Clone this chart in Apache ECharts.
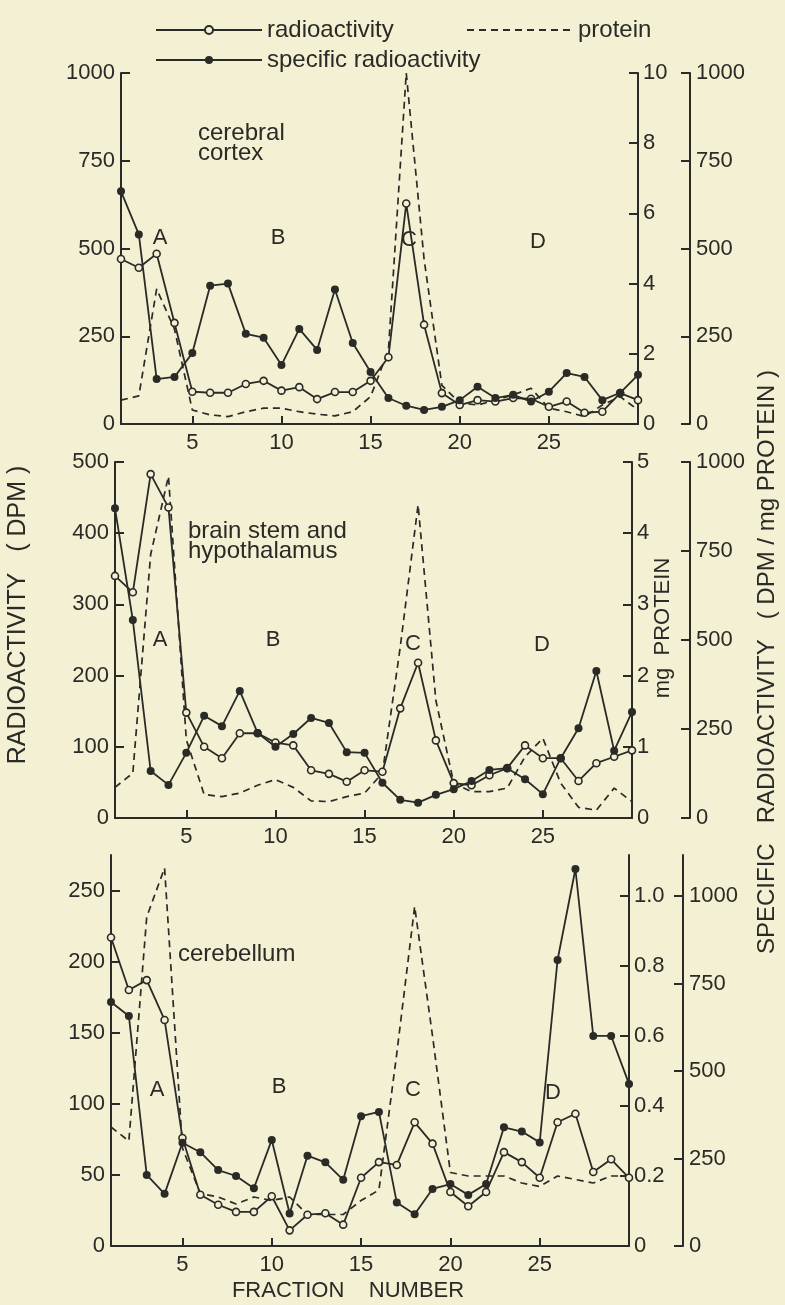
<!DOCTYPE html>
<html>
<head>
<meta charset="utf-8">
<script src="https://cdn.jsdelivr.net/npm/echarts@6/dist/echarts.min.js"></script>
<style>
html,body{margin:0;padding:0;background:#f3f0d3;}
#chart{width:785px;height:1305px;}
</style>
</head>
<body>
<div id="chart"></div>
<script>
// ---------- data ----------
const fractions = ['1','2','3','4','5','6','7','8','9','10','11','12','13','14','15','16','17','18','19','20','21','22','23','24','25','26','27','28','29','30'];

// cerebral cortex
const cortexRadio    = [470,445,485,288,92,89,89,114,123,95,105,71,91,91,123,190,628,283,88,54,68,64,74,72,49,64,32,35,88,68];
const cortexSpecific = [663,540,128,134,202,394,400,257,246,168,271,211,383,231,148,74,52,40,49,68,106,74,83,64,92,145,134,68,89,140];
const cortexProtein  = [0.68,0.8,3.85,2.7,0.4,0.26,0.21,0.35,0.45,0.45,0.35,0.28,0.23,0.35,0.78,2.1,10,4.7,1.1,0.6,0.54,0.68,0.83,1.02,0.45,0.35,0.21,0.54,0.78,0.4];

// brain stem and hypothalamus
const stemRadio    = [340,317,483,436,148,100,84,119,119,106,102,67,62,51,67,65,154,218,109,49,46,60,70,102,84,84,52,77,86,95];
const stemSpecific = [870,556,132,93,183,287,258,357,239,200,236,281,267,185,183,99,51,43,65,81,104,135,140,109,67,168,252,413,189,298];
const stemProtein  = [0.43,0.63,3.7,4.8,1.1,0.33,0.3,0.35,0.46,0.54,0.43,0.24,0.23,0.3,0.35,0.63,2.4,4.4,1.65,0.49,0.37,0.37,0.42,0.86,1.12,0.49,0.15,0.11,0.42,0.23];

// cerebellum
const cerebRadio    = [217,180,187,159,76,36,29,24,24,35,11,22,23,15,48,59,57,87,72,38,28,38,66,59,48,87,93,52,61,48];
const cerebSpecific = [697,657,203,149,295,268,217,200,165,303,93,258,239,189,371,383,124,91,163,177,146,177,339,327,296,817,1077,600,600,463];
const cerebProtein  = [0.34,0.30,0.94,1.08,0.28,0.15,0.14,0.12,0.14,0.13,0.14,0.09,0.09,0.09,0.13,0.16,0.55,0.97,0.6,0.21,0.2,0.2,0.2,0.18,0.17,0.2,0.19,0.18,0.2,0.2];

// tick labels
const fractionTicks    = ['5','10','15','20','25'];
const cortexRadioTicks = [0,250,500,750,1000];
const cortexProtTicks  = [0,2,4,6,8,10];
const cortexSpecTicks  = [0,250,500,750,1000];
const stemRadioTicks   = [0,100,200,300,400,500];
const stemProtTicks    = [0,1,2,3,4,5];
const stemSpecTicks    = [0,250,500,750,1000];
const cerebRadioTicks  = [0,50,100,150,200,250];
const cerebProtTicks   = [0,0.2,0.4,0.6,0.8,1.0];
const cerebSpecTicks   = [0,250,500,750,1000];

// ---------- style ----------
const INK = '#2a2a26';
const BG = '#f3f0d3';
const FONT = 'Liberation Sans';

const panels = [
  {grid:{left:121, top:73, width:517, height:351}, outer:52,
   radio:cortexRadio, spec:cortexSpecific, prot:cortexProtein,
   left:{max:1000, ticks:cortexRadioTicks, interval:250},
   inner:{max:10, ticks:cortexProtTicks, interval:2},
   outerAx:{max:1000, ticks:cortexSpecTicks, interval:250}},
  {grid:{left:115, top:462, width:517, height:356}, outer:58,
   radio:stemRadio, spec:stemSpecific, prot:stemProtein,
   left:{max:500, ticks:stemRadioTicks, interval:100},
   inner:{max:5, ticks:stemProtTicks, interval:1},
   outerAx:{max:1000, ticks:stemSpecTicks, interval:250}},
  {grid:{left:111, top:855, width:518, height:391}, outer:54,
   radio:cerebRadio, spec:cerebSpecific, prot:cerebProtein,
   left:{max:275, ticks:cerebRadioTicks, interval:50},
   inner:{max:1.117, ticks:cerebProtTicks, interval:0.2, fmt:v=>v===0?'0':v.toFixed(1)},
   outerAx:{max:1117, ticks:cerebSpecTicks, interval:250}}
];

const axisLine = {show:true, lineStyle:{color:INK, width:2}};
const labelStyle = {color:INK, fontFamily:FONT, fontSize:22};

function yAxis(g, position, offset, ax, margin) {
  return {
    type:'value', gridIndex:g, position:position, offset:offset,
    min:0, max:ax.max, interval:ax.interval,
    axisLine:axisLine,
    axisTick:{show:true, inside:true, length:9, lineStyle:{color:INK, width:2}, customValues:ax.ticks},
    axisLabel:Object.assign({margin:margin, customValues:ax.ticks,
      formatter: ax.fmt ? ax.fmt : (v => String(v))}, labelStyle),
    splitLine:{show:false}
  };
}

const isFracTick = (i, v) => fractionTicks.indexOf(String(v)) >= 0;

const grids = [], xAxes = [], yAxes = [], series = [];
panels.forEach((p, g) => {
  grids.push(Object.assign({containLabel:false}, p.grid));
  xAxes.push({
    type:'category', gridIndex:g, data:fractions, boundaryGap:false,
    axisLine:axisLine,
    axisTick:{show:true, inside:true, length:8, lineStyle:{color:INK, width:2},
      interval:isFracTick, alignWithLabel:true},
    axisLabel:Object.assign({margin:8, interval:isFracTick}, labelStyle),
    splitLine:{show:false}
  });
  yAxes.push(yAxis(g, 'left', 0, p.left, 6));
  yAxes.push(yAxis(g, 'right', 0, p.inner, 5));
  yAxes.push(yAxis(g, 'right', p.outer, p.outerAx, 6));

  series.push({
    name:'protein', type:'line', xAxisIndex:g, yAxisIndex:3*g+1, data:p.prot,
    symbol:'none', lineStyle:{color:INK, width:1.7, type:[7,5]}, itemStyle:{color:INK}, z:2
  });
  series.push({
    name:'radioactivity', type:'line', xAxisIndex:g, yAxisIndex:3*g, data:p.radio,
    symbol:'circle', symbolSize:7,
    lineStyle:{color:INK, width:1.8},
    itemStyle:{color:BG, borderColor:INK, borderWidth:1.6}, z:3
  });
  series.push({
    name:'specific radioactivity', type:'line', xAxisIndex:g, yAxisIndex:3*g+2, data:p.spec,
    symbol:'circle', symbolSize:8,
    lineStyle:{color:INK, width:1.8},
    itemStyle:{color:INK}, z:4
  });
});

function txt(text, x, y, size, opts) {
  return Object.assign({
    type:'text', x:x, y:y, silent:true,
    style:{text:text, fill:INK, font:size + 'px "' + FONT + '"', textAlign:'center', textVerticalAlign:'middle'}
  }, opts || {});
}

const graphics = [
  // region letters
  txt('A',160,238,22), txt('B',278,238,22), txt('C',409,240,22), txt('D',538,242,22),
  txt('A',160,640,22), txt('B',273,640,22), txt('C',413,644,22), txt('D',542,645,22),
  txt('A',157,1090,22), txt('B',279,1087,22), txt('C',413,1090,22), txt('D',553,1093,22),
  // panel titles
  {type:'text', x:198, y:143, silent:true, style:{text:'cerebral\ncortex', fill:INK, font:'24px "'+FONT+'"', lineHeight:20, textAlign:'left', textVerticalAlign:'middle'}},
  {type:'text', x:188, y:541, silent:true, style:{text:'brain stem and\nhypothalamus', fill:INK, font:'24px "'+FONT+'"', lineHeight:20, textAlign:'left', textVerticalAlign:'middle'}},
  {type:'text', x:178, y:954, silent:true, style:{text:'cerebellum', fill:INK, font:'24px "'+FONT+'"', textAlign:'left', textVerticalAlign:'middle'}},
  // axis titles
  txt('RADIOACTIVITY   ( DPM )', 18, 615, 25, {rotation:Math.PI/2}),
  txt('SPECIFIC   RADIOACTIVITY   ( DPM / mg PROTEIN )', 767, 662, 24, {rotation:Math.PI/2}),
  txt('mg  PROTEIN', 663, 628, 22, {rotation:Math.PI/2}),
  txt('FRACTION    NUMBER', 348, 1291, 22)
];

const legendBase = {
  itemWidth:106, itemHeight:10, itemGap:10,
  textStyle:{color:INK, fontFamily:FONT, fontSize:24},
  selectedMode:false
};

const option = {
  backgroundColor:BG,
  animation:false,
  legend:[
    Object.assign({data:['radioactivity'], left:150, top:13}, legendBase),
    Object.assign({data:['protein'], left:461, top:13,
      itemStyle:{color:'rgba(0,0,0,0)', borderWidth:0, opacity:0}}, legendBase),
    Object.assign({data:['specific radioactivity'], left:150, top:43}, legendBase)
  ],
  grid:grids,
  xAxis:xAxes,
  yAxis:yAxes,
  series:series,
  graphic:graphics
};

const chart = echarts.init(document.getElementById('chart'), null, {renderer:'canvas'});
chart.setOption(option);
</script>
</body>
</html>
